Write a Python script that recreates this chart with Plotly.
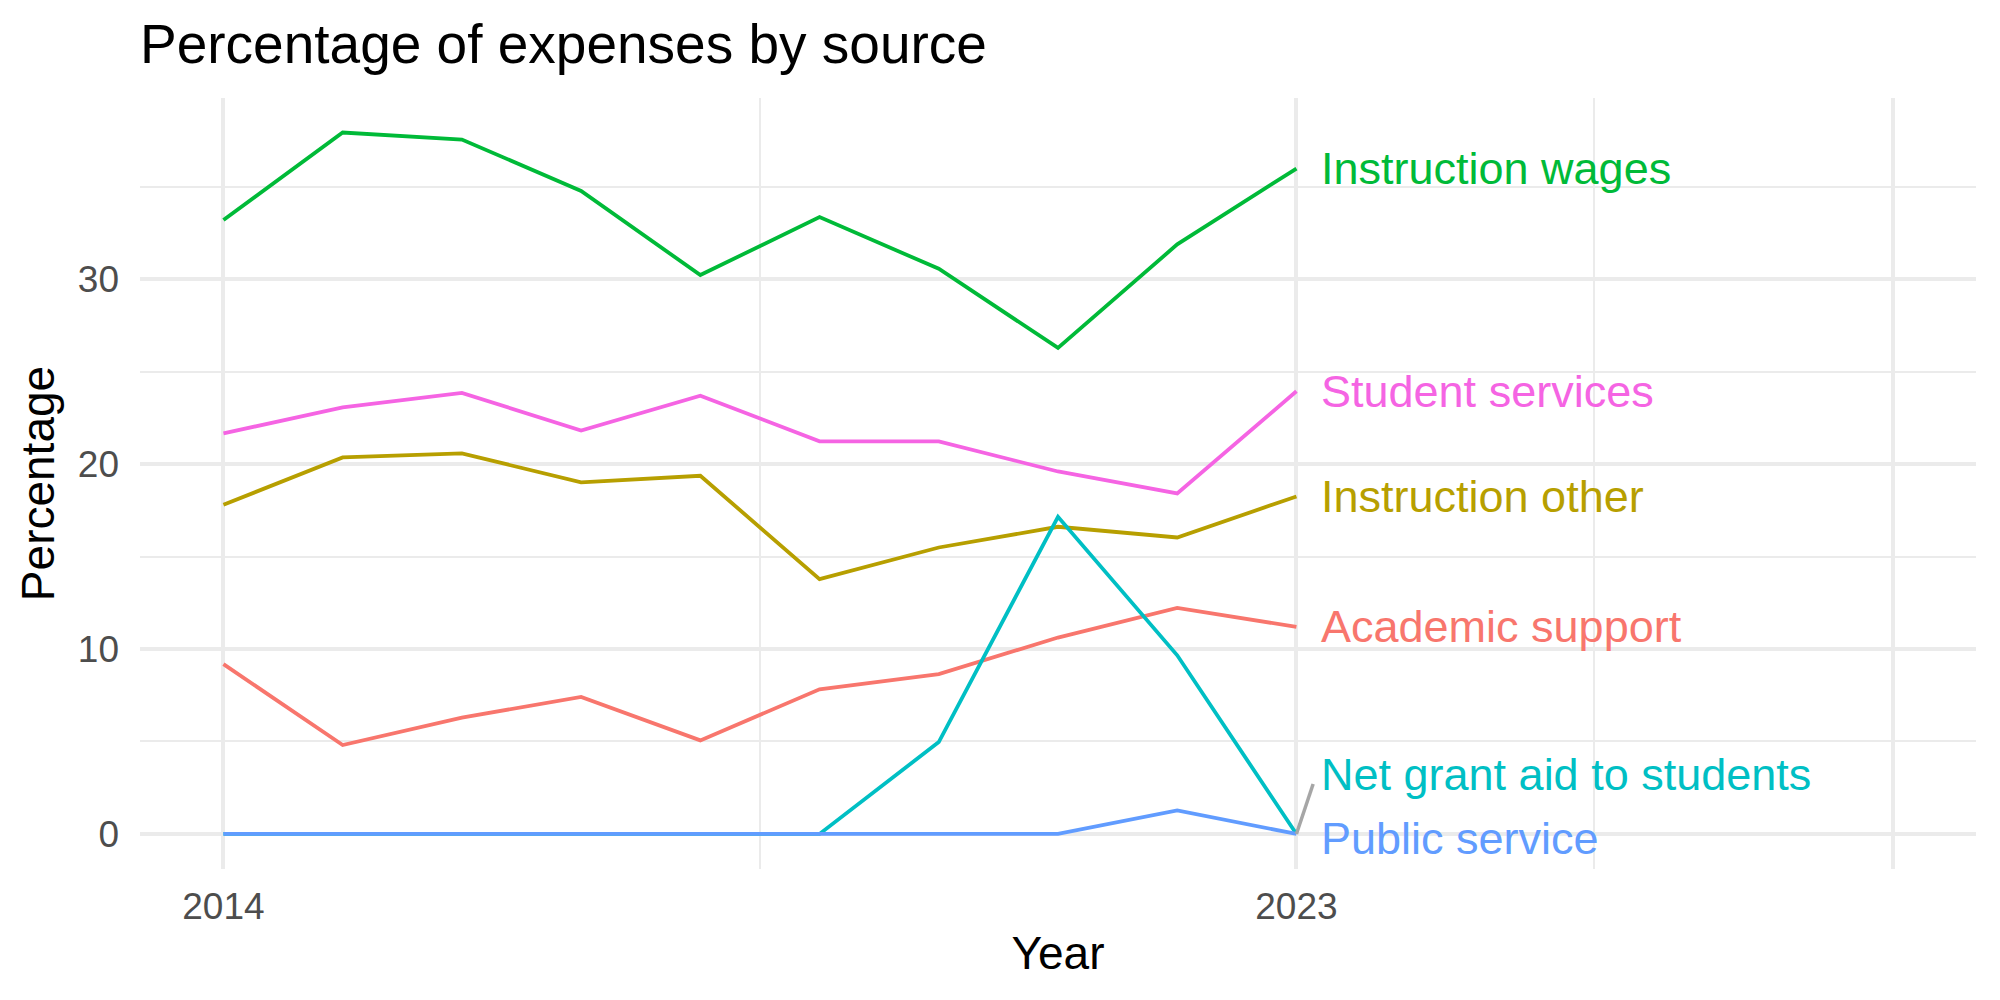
import plotly.graph_objects as go

years = [2014, 2015, 2016, 2017, 2018, 2019, 2020, 2021, 2022, 2023]

academic_support = [9.18, 4.81, 6.29, 7.41, 5.06, 7.82, 8.64, 10.62, 12.22, 11.2]
instruction_other = [17.8, 20.36, 20.58, 19.01, 19.37, 13.78, 15.49, 16.61, 16.03, 18.25]
instruction_wages = [33.2, 37.93, 37.55, 34.77, 30.22, 33.36, 30.56, 26.28, 31.88, 35.98]
net_grant_aid = [0, 0, 0, 0, 0, 0, 4.97, 17.15, 9.66, 0]
public_service = [0, 0, 0, 0, 0, 0, 0, 0, 1.27, 0]
student_services = [21.66, 23.07, 23.85, 21.81, 23.7, 21.23, 21.23, 19.6, 18.41, 23.94]

series_names = ["Academic support", "Instruction other", "Instruction wages",
                "Net grant aid to students", "Public service", "Student services"]
series_values = [academic_support, instruction_other, instruction_wages,
                 net_grant_aid, public_service, student_services]
colors = ["#F8766D", "#B79F00", "#00BA38", "#00BFC4", "#619CFF", "#F564E3"]

# repelled label y positions (from picture)
label_y = [11.2, 18.25, 35.98, 3.19, -0.24, 23.94]
label_x = 2023.19

x_tickvals = [2014, 2023, 2028]
x_ticktext = ["2014", "2023", ""]
x_minor = [2018.5, 2025.5]
y_tickvals = [0, 10, 20, 30]
y_minor = [5, 15, 25, 35]

font_family = "Liberation Sans, Arial, Helvetica, sans-serif"

fig = go.Figure()

for name, vals, col in zip(series_names, series_values, colors):
    fig.add_trace(go.Scatter(x=years, y=vals, mode="lines", name=name,
                             line=dict(color=col, width=3.8), showlegend=False,
                             hoverinfo="skip"))

# repel segment for Net grant aid label
fig.add_trace(go.Scatter(x=[years[-1], years[-1] + 0.14], y=[net_grant_aid[-1], 2.7],
                         mode="lines", line=dict(color="#A6A6A6", width=3.5),
                         showlegend=False, hoverinfo="skip"))

for name, ly, col in zip(series_names, label_y, colors):
    fig.add_annotation(x=label_x, y=ly, xref="x", yref="y", text=name,
                       showarrow=False, xanchor="left", yanchor="middle",
                       font=dict(family=font_family, size=45, color=col))

fig.update_layout(
    width=2000, height=1000,
    margin=dict(l=140, r=24, t=98, b=131),
    paper_bgcolor="white", plot_bgcolor="white",
    font=dict(family=font_family),
    title=dict(text="Percentage of expenses by source", x=0, xref="paper",
               xanchor="left", y=1 - 0.044, yref="container", yanchor="middle",
               font=dict(size=55, color="black", family=font_family)),
)

fig.update_xaxes(
    range=[2013.3, 2028.7], tickvals=x_tickvals, ticktext=x_ticktext,
    showgrid=True, gridcolor="#EBEBEB", gridwidth=3.5, zeroline=False,
    showline=False, ticks="", ticklabelstandoff=12,
    tickfont=dict(size=37, color="#4D4D4D", family=font_family),
    minor=dict(tickvals=x_minor, showgrid=True, gridcolor="#EBEBEB", gridwidth=1.8),
    title=dict(text="Year", font=dict(size=46, color="black", family=font_family), standoff=10),
)
fig.update_yaxes(
    range=[-1.895, 39.795], tickvals=y_tickvals,
    showgrid=True, gridcolor="#EBEBEB", gridwidth=3.5, zeroline=False,
    showline=False, ticks="", ticklabelstandoff=20,
    tickfont=dict(size=37, color="#4D4D4D", family=font_family),
    minor=dict(tickvals=y_minor, showgrid=True, gridcolor="#EBEBEB", gridwidth=1.8),
    title=dict(text="Percentage", font=dict(size=46, color="black", family=font_family), standoff=8),
)

fig.write_html("out.html")
